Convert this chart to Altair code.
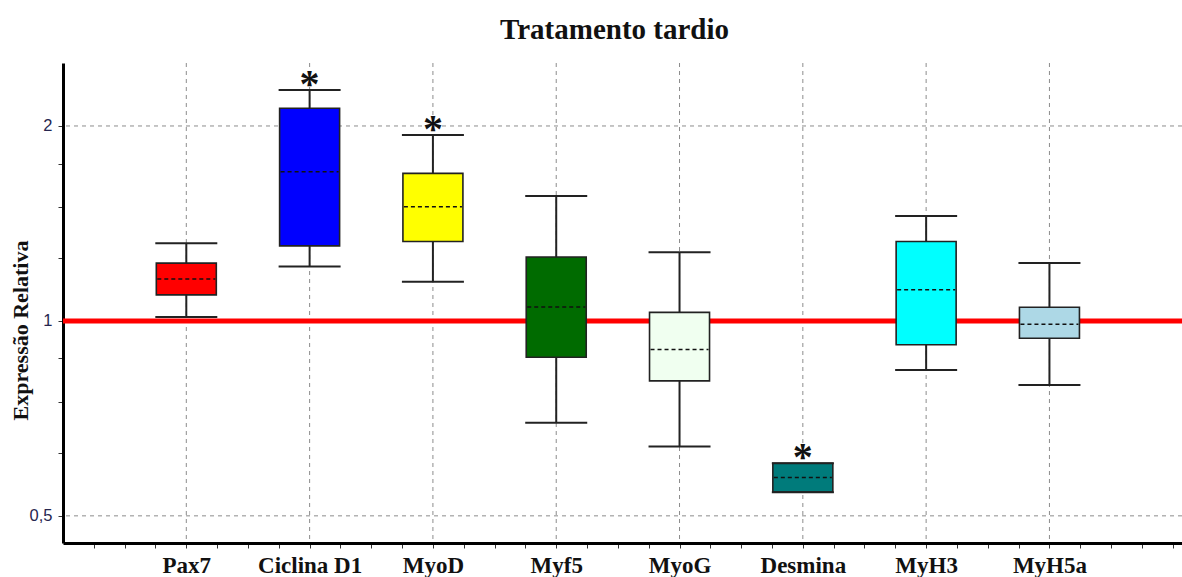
import json
import altair as alt
import pandas as pd

# Genes and their box-plot statistics (relative expression, log2 axis)
genes = ["Pax7", "Ciclina D1", "MyoD", "Myf5", "MyoG", "Desmina", "MyH3", "MyH5a"]
positions = [1, 2, 3, 4, 5, 6, 7, 8]
whisker_low = [1.014, 1.213, 1.149, 0.696, 0.640, 0.544, 0.840, 0.796]
q1 = [1.097, 1.306, 1.326, 0.879, 0.808, 0.544, 0.919, 0.940]
median = [1.161, 1.700, 1.501, 1.051, 0.903, 0.573, 1.117, 0.988]
q3 = [1.228, 2.130, 1.690, 1.255, 1.031, 0.603, 1.326, 1.050]
whisker_high = [1.318, 2.273, 1.937, 1.559, 1.277, 0.603, 1.452, 1.229]
box_colors = ["#ff0000", "#0000ff", "#ffff00", "#006b00", "#f0fff0", "#007b7b", "#00ffff", "#add8e6"]
significant = [False, True, True, False, False, True, False, False]

# Axis ticks
y_major = [0.5, 1, 2]
y_major_labels = ["0,5", "1", "2"]
y_minor = [0.625, 0.75, 0.875, 1.25, 1.5, 1.75]
x_ticks = [i / 4 for i in range(1, 37)]
reference_level = [1.0]

df = pd.DataFrame({
    "gene": genes, "pos": positions, "lo": whisker_low, "q1": q1,
    "med": median, "q3": q3, "hi": whisker_high,
    "color": box_colors, "sig": significant,
})

x_label_expr = (
    "datum.value % 1 == 0 && datum.value >= 1 && datum.value <= "
    + str(len(genes)) + " ? " + json.dumps(genes) + "[datum.value - 1] : ''"
)
y_label_expr = " : ".join(
    "datum.value == {} ? '{}'".format(v, lab) for v, lab in zip(y_major, y_major_labels)
) + " : ''"

x_scale = alt.Scale(domain=[0, 9.075], nice=False, zero=False)
y_scale = alt.Scale(type="log", domain=[0.454, 2.502], nice=False)

x_axis = alt.Axis(
    title=None, values=x_ticks, labelExpr=x_label_expr, grid=False,
    labelFont="Liberation Serif", labelFontSize=23, labelFontWeight="bold",
    labelColor="#111111", labelPadding=6, labelOverlap=False, labelFlush=False,
    labelBound=False, tickSize=5, tickColor="#333333", tickWidth=1,
    domainColor="#000000", domainWidth=3,
)
y_axis = alt.Axis(
    title="Expressão Relativa", values=sorted(y_major + y_minor), labelExpr=y_label_expr,
    grid=False, labelFont="Liberation Sans", labelFontSize=16.5, labelColor="#26264f",
    labelPadding=6, labelOverlap=False, labelFlush=False, labelBound=False,
    tickSize=5, tickColor="#333333", tickWidth=1,
    domainColor="#000000", domainWidth=3,
    titleFont="Liberation Serif", titleFontSize=22, titleFontWeight="bold",
    titleColor="#111111", titleX=-43, titleY=267, titleBaseline="middle",
    titleAlign="center", titleAngle=270,
)


def xq(field):
    return alt.X(field, type="quantitative", scale=x_scale, axis=x_axis)


def yq(field):
    return alt.Y(field, type="quantitative", scale=y_scale, axis=y_axis)


grid_style = dict(color="#8c8c8c", strokeWidth=1, strokeDash=[4, 4])

h_grid = alt.Chart(pd.DataFrame({"v": y_major})).mark_rule(**grid_style).encode(y=yq("v"))
v_grid = alt.Chart(pd.DataFrame({"p": positions})).mark_rule(**grid_style).encode(x=xq("p"))
ref_line = alt.Chart(pd.DataFrame({"v": reference_level})).mark_rule(
    color="#ff0000", strokeWidth=5
).encode(y=yq("v"))

base = alt.Chart(df)
whisker_lo = base.mark_rule(color="#222222", strokeWidth=2).encode(
    x=xq("pos"), y=yq("lo"), y2="q1"
)
whisker_hi = base.mark_rule(color="#222222", strokeWidth=2).encode(
    x=xq("pos"), y=yq("q3"), y2="hi"
)
boxes = base.mark_rect(
    stroke="#222222", strokeWidth=1.6, xOffset=-30, x2Offset=30
).encode(
    x=xq("pos"), x2="pos", y=yq("q1"), y2="q3",
    fill=alt.Fill("color:N", scale=None),
)
medians = base.mark_rule(
    color="#111111", strokeWidth=1.5, strokeDash=[4, 3], xOffset=-29, x2Offset=29
).encode(x=xq("pos"), x2="pos", y=yq("med"))
caps_lo = base.mark_rule(
    color="#222222", strokeWidth=2, xOffset=-31, x2Offset=31
).encode(x=xq("pos"), x2="pos", y=yq("lo"))
caps_hi = base.mark_rule(
    color="#222222", strokeWidth=2, xOffset=-31, x2Offset=31
).encode(x=xq("pos"), x2="pos", y=yq("hi"))
stars = base.transform_filter("datum.sig").mark_text(
    text="*", font="Liberation Serif", fontSize=40, fontWeight="bold",
    color="#111111", baseline="middle", align="center", dy=-5,
).encode(x=xq("pos"), y=yq("hi"))

chart = alt.layer(
    h_grid, v_grid, ref_line, whisker_lo, whisker_hi, boxes, medians,
    caps_lo, caps_hi, stars,
).properties(
    width=1119, height=480,
    title=alt.TitleParams(
        "Tratamento tardio", font="Liberation Serif", fontSize=29,
        fontWeight="bold", color="#111111", anchor="middle", dx=-8, offset=24,
        dy=29, baseline="alphabetic",
    ),
    autosize=alt.AutoSizeParams(type="none"),
    padding={"left": 63, "top": 63, "right": 0, "bottom": 34},
    background="#ffffff",
).configure_view(stroke=None)

chart.save("out.html", embed_options={"renderer": "svg", "actions": False})
